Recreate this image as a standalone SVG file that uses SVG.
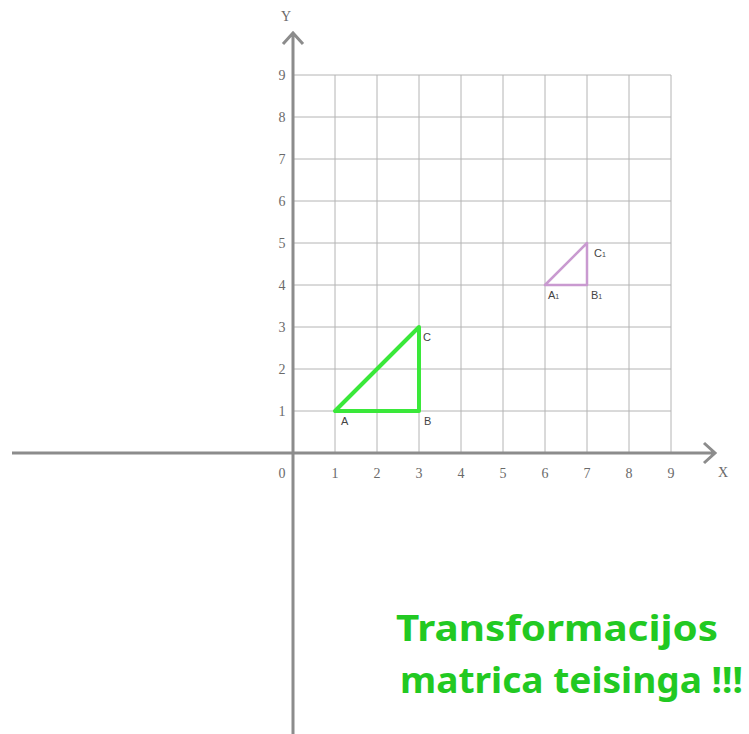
<svg xmlns="http://www.w3.org/2000/svg" width="749" height="734" viewBox="0 0 749 734">
<style>
.grid{stroke:#b4b4b4;stroke-width:1;fill:none}
.axis{stroke:#8c8c8c;stroke-width:3;fill:none}
.num{font-family:"Liberation Serif",serif;font-size:14px;fill:#6a6a6a;text-anchor:middle}
.lbl{font-family:"Liberation Sans",sans-serif;font-size:11px;fill:#444}
.sub{font-size:7px}
.msg{font-family:"Noto Sans","DejaVu Sans",sans-serif;font-weight:bold;font-size:36px;fill:#22c922}
</style>
<rect width="749" height="734" fill="#fff"/>
<g id="grid" class="grid">
<path d="M335 75V453M377 75V453M419 75V453M461 75V453M503 75V453M545 75V453M587 75V453M629 75V453M671 75V453"/>
<path d="M293 75H671M293 117H671M293 159H671M293 201H671M293 243H671M293 285H671M293 327H671M293 369H671M293 411H671"/>
</g>
<g id="connectors">
<path class="axis" d="M12 453H715M704 443L715 453L704 463"/>
<path class="axis" d="M293 734V33M283 44L293 33L303 44"/>
</g>
<g id="labels">
<text class="num" x="286" y="21">Y</text>
<text class="num" x="723" y="477">X</text>
<text class="num" x="282" y="478">0</text>
<text class="num" x="335" y="478">1</text>
<text class="num" x="377" y="478">2</text>
<text class="num" x="419" y="478">3</text>
<text class="num" x="461" y="478">4</text>
<text class="num" x="503" y="478">5</text>
<text class="num" x="545" y="478">6</text>
<text class="num" x="587" y="478">7</text>
<text class="num" x="629" y="478">8</text>
<text class="num" x="671" y="478">9</text>
<text class="num" x="282" y="416">1</text>
<text class="num" x="282" y="374">2</text>
<text class="num" x="282" y="332">3</text>
<text class="num" x="282" y="290">4</text>
<text class="num" x="282" y="248">5</text>
<text class="num" x="282" y="206">6</text>
<text class="num" x="282" y="164">7</text>
<text class="num" x="282" y="122">8</text>
<text class="num" x="282" y="80">9</text>
</g>
<g id="triangleABC">
<polygon points="335,411 419,411 419,327" fill="none" stroke="#3ae83a" stroke-width="4" stroke-linejoin="round"/>
<text class="lbl" x="341" y="425">A</text>
<text class="lbl" x="424" y="425">B</text>
<text class="lbl" x="423" y="341">C</text>
</g>
<g id="triangleA1B1C1">
<polygon points="545,285 587,285 587,243" fill="none" stroke="#c99ad0" stroke-width="2.5" stroke-linejoin="round"/>
<text class="lbl" x="548" y="299">A<tspan class="sub">1</tspan></text>
<text class="lbl" x="591" y="299">B<tspan class="sub">1</tspan></text>
<text class="lbl" x="594" y="257">C<tspan class="sub">1</tspan></text>
</g>
<g id="message">
<text class="msg" x="396" y="641" textLength="322" lengthAdjust="spacingAndGlyphs">Transformacijos</text>
<text class="msg" x="400" y="693" textLength="343" lengthAdjust="spacingAndGlyphs">matrica teisinga !!!</text>
</g>
</svg>
